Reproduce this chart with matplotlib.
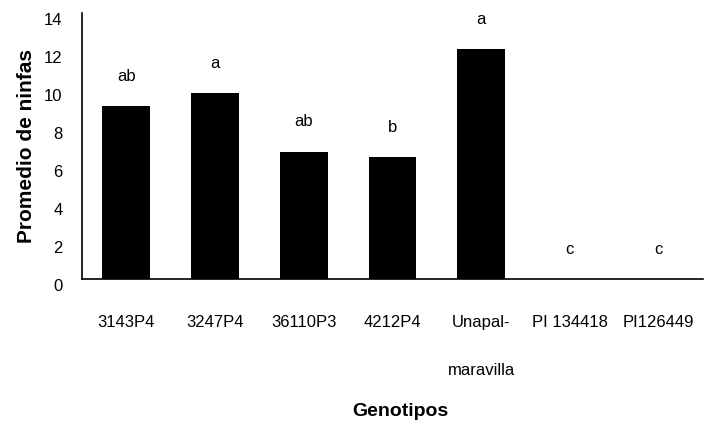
import numpy as np
import matplotlib.pyplot as plt
import matplotlib.transforms as mtransforms

plt.rcParams['font.family'] = ['Liberation Sans', 'DejaVu Sans']

# data
genotipos = ["3143P4", "3247P4", "36110P3", "4212P4", "Unapal-\n\nmaravilla", "PI 134418", "PI126449"]
ninfas = [9.1, 9.8, 6.7, 6.4, 12.1, 0, 0]
letras = ["ab", "a", "ab", "b", "a", "c", "c"]
y_ticks = [0, 2, 4, 6, 8, 10, 12, 14]

fig = plt.figure(figsize=(7.14, 4.23), dpi=100)
fig.subplots_adjust(left=82/714, right=703/714, top=1-13/423, bottom=1-279/423)
ax = fig.add_subplot(111)

x = np.arange(len(genotipos))
bars = ax.bar(x, ninfas, width=0.54, color="black")

for xi, v, l in zip(x, ninfas, letras):
    ax.annotate(l, (xi, v), xytext=(0, 16), textcoords="offset points",
                ha="center", va="bottom", fontsize=12)

ax.set_xlim(-0.5, len(genotipos) - 0.5)
ax.set_ylim(0, 14)
ax.set_yticks(y_ticks)
ax.set_yticklabels([str(t) for t in y_ticks], fontsize=12)
ax.set_xticks(x)
ax.set_xticklabels(genotipos, fontsize=12, linespacing=1.73)
ax.tick_params(axis="both", length=0)
ax.tick_params(axis="y", pad=14)
ax.tick_params(axis="x", pad=26)

# tick labels sit a little lower than their values in the original
off = mtransforms.ScaledTranslation(0, -4/72, fig.dpi_scale_trans)
for lab in ax.get_yticklabels():
    lab.set_transform(lab.get_transform() + off)

for s in ["top", "right"]:
    ax.spines[s].set_visible(False)
ax.spines["left"].set_linewidth(1.2)
ax.spines["bottom"].set_linewidth(1.2)

ax.set_ylabel("Promedio de ninfas", fontsize=15, fontweight="bold", labelpad=6)
ax.set_xlabel("Genotipos", fontsize=14, fontweight="bold")
ax.xaxis.set_label_coords(0.512, -0.466)

fig.savefig("out.png", dpi=100)
